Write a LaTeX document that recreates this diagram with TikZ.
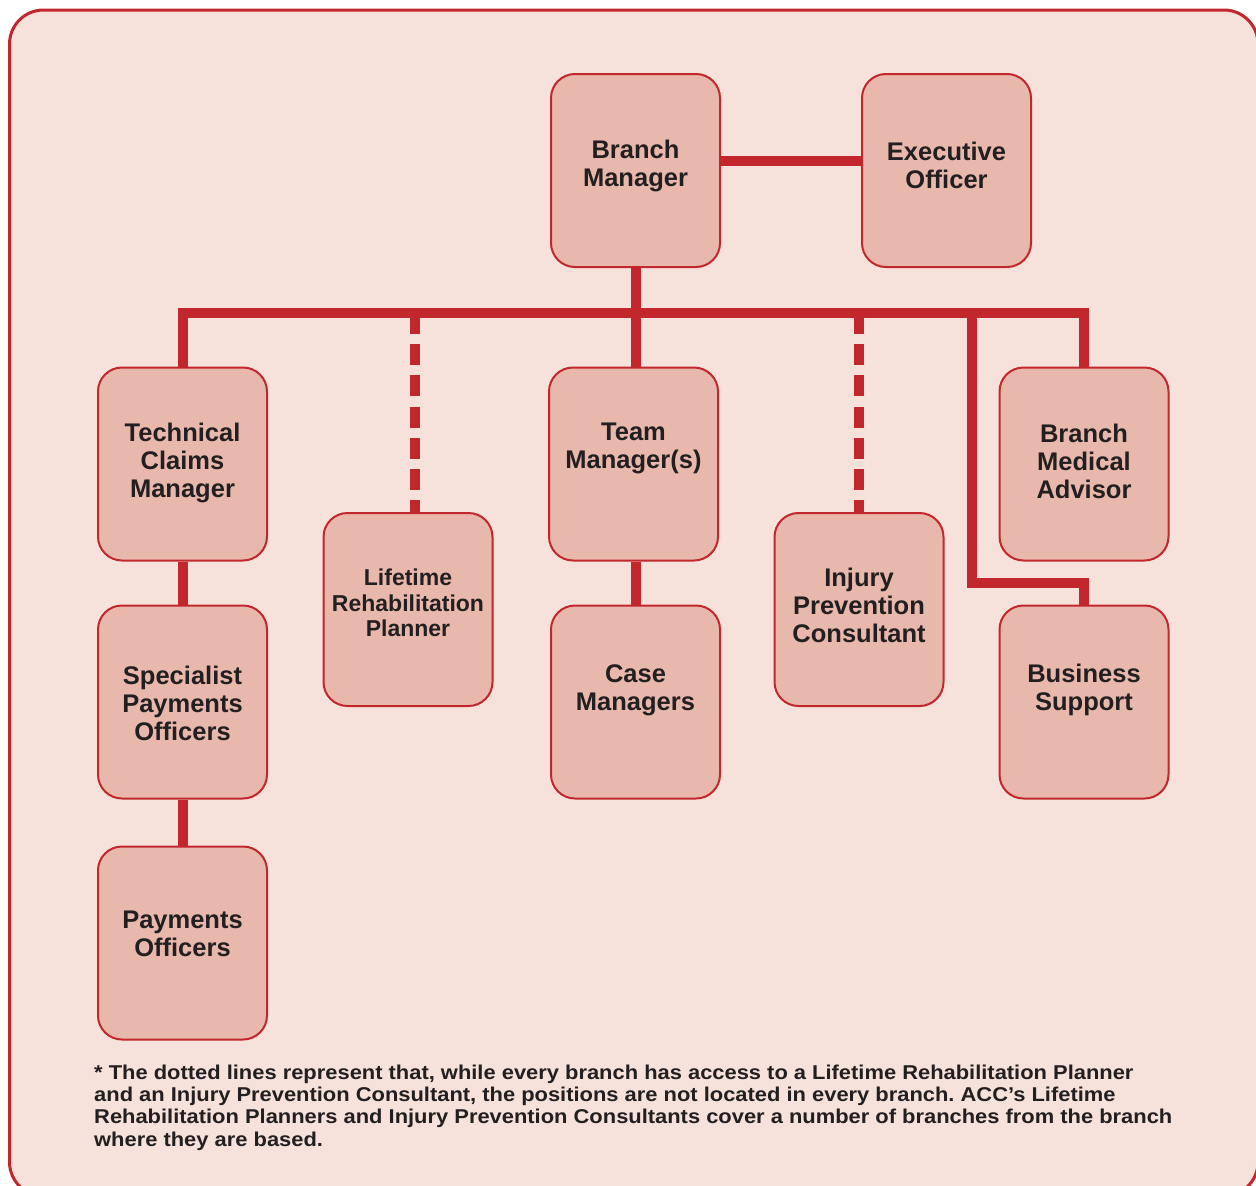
\documentclass[tikz,border=0pt]{standalone}
\usepackage{fontspec}
\setmainfont{Liberation Sans}
\newfontfamily\notefont{Liberation Sans}[FakeStretch=1.095]
\frenchspacing
\pgfdeclarelayer{bg}
\pgfsetlayers{bg,main}
\definecolor{pagebg}{HTML}{F6E2DB}
\definecolor{boxfill}{HTML}{E8B8AC}
\definecolor{accred}{HTML}{C1272D}
\definecolor{inkc}{HTML}{231F20}
\begin{document}
\begin{tikzpicture}[x=1pt,y=-1pt,
  box/.style={draw=accred, line width=2pt, fill=boxfill, rounded corners=24pt, minimum width=169pt, minimum height=193pt, inner sep=0pt},
  lbl/.style={anchor=north, inner sep=0pt, align=center, text=inkc, font=\bfseries\fontsize{25.5}{28}\selectfont},
  lbls/.style={lbl, font=\bfseries\fontsize{23}{25.3}\selectfont},
  link/.style={draw=accred, line width=10pt, line cap=butt, line join=miter},
  dlink/.style={link, dash pattern=on 21pt off 10.2pt},
  note/.style={anchor=north west, inner sep=0pt, align=left, text=inkc, font=\notefont\bfseries\fontsize{20}{22.1}\selectfont}]
\useasboundingbox (0,0) rectangle (1256,1186);

% boxes
\node[box] (bm)  at (635.5,170.5) {};
\node[box] (eo)  at (946.5,170.5) {};
\node[box] (tcm) at (182.5,464) {};
\node[box] (spo) at (182.5,702) {};
\node[box] (po)  at (182.5,943) {};
\node[box] (lrp) at (408,609.5) {};
\node[box] (tm)  at (633.5,464) {};
\node[box] (cm)  at (635.5,702) {};
\node[box] (ipc) at (859,609.5) {};
\node[box] (bma) at (1084,464) {};
\node[box] (bs)  at (1084,702) {};

% labels
\node[lbl] (bmt)  at (635.5,140) {Branch\\Manager};
\node[lbl] (eot)  at (946.5,142) {Executive\\Officer};
\node[lbl] (tcmt) at (182.5,423) {Technical\\Claims\\Manager};
\node[lbl] (spot) at (182.5,666) {Specialist\\Payments\\Officers};
\node[lbl] (pot)  at (182.5,911) {Payments\\Officers};
\node[lbls] (lrpt) at (408,569) {Lifetime\\Rehabilitation\\Planner};
\node[lbl] (tmt)  at (633.5,423) {Team\\Manager(s)};
\node[lbl] (cmt)  at (635.5,664) {Case\\Managers};
\node[lbl] (ipct) at (859,568) {Injury\\Prevention\\Consultant};
\node[lbl] (bmat) at (1084,424) {Branch\\Medical\\Advisor};
\node[lbl] (bst)  at (1084,664) {Business\\Support};

\node[note] (fn) at (94,1065) {* The dotted lines represent that, while every branch has access to a Lifetime Rehabilitation Planner\\
and an Injury Prevention Consultant, the positions are not located in every branch. ACC’s Lifetime\\
Rehabilitation Planners and Injury Prevention Consultants cover a number of branches from the branch\\
where they are based.};

\coordinate (bus) at (0,313);
\coordinate (bsx) at (972,313);
\coordinate (lrptop) at ([xshift=7pt]lrp.north);
\coordinate (bsturn) at ([yshift=22pt]bs.north);

\begin{pgfonlayer}{bg}
  \fill[white] (0,0) rectangle (1256,1186);
  \begin{scope}
    \clip (0,0) rectangle (1256,1186);
    \draw[accred, line width=3pt, fill=pagebg, rounded corners=34pt] (9.5,10) rectangle (1258,1196);
  \end{scope}
  % connectors
  \draw[link] ([yshift=9.5pt]bm.east) -- ([yshift=9.5pt]eo.west);
  \draw[link] (tcm.north) -- (tcm.north |- bus) -- (bma.north |- bus) -- (bma.north);
  \draw[link] (bm.south) -- (bm.south |- tm.north);
  \draw[link] (bm.south |- tm.south) -- (bm.south |- cm.north);
  \draw[link] (tcm.south) -- (spo.north);
  \draw[link] (spo.south) -- (po.north);
  \draw[link] (bsx) |- (bsturn) -- (bs.north);
  \draw[dlink] (lrptop |- bus) -- (lrptop);
  \draw[dlink] (ipc.north |- bus) -- (ipc.north);
\end{pgfonlayer}
\end{tikzpicture}
\end{document}
